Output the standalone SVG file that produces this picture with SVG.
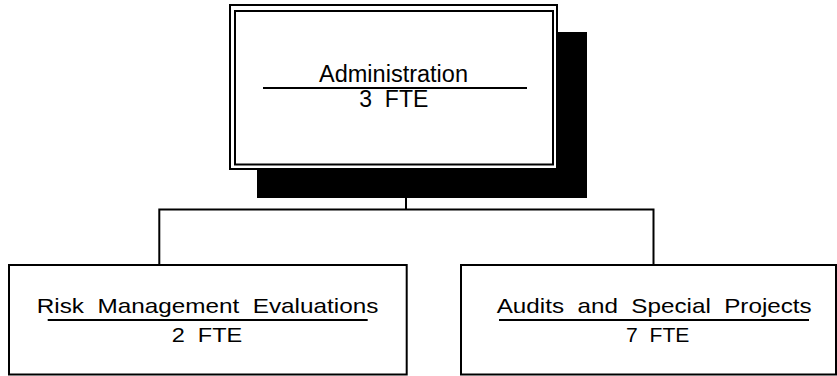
<svg xmlns="http://www.w3.org/2000/svg" width="837" height="376" viewBox="0 0 837 376">
<style>
.box{fill:#fff;stroke:#000;stroke-width:2}
.conn{fill:none;stroke:#000;stroke-width:2}
.rule{stroke:#000;stroke-width:2}
text{font-family:"Liberation Sans",Arial,sans-serif;fill:#000;text-anchor:middle;white-space:pre}
.t1{font-size:23.5px}
.t2{font-size:20px}
</style>
<rect width="837" height="376" fill="#fff"/>
<g id="connectors">
<path class="conn" d="M406,198 V209.5"/>
<path class="conn" d="M159.3,265 V209.5 H653.5 V265"/>
</g>
<g id="admin">
<rect x="257" y="32" width="330" height="166" fill="#000"/>
<rect class="box" x="230" y="5" width="327" height="164"/>
<rect x="235" y="11" width="318" height="153.5" fill="none" stroke="#000" stroke-width="2"/>
<text class="t1" x="393.5" y="81.5" textLength="149" lengthAdjust="spacingAndGlyphs">Administration</text>
<line class="rule" x1="263" y1="88" x2="527" y2="88"/>
<text class="t1" x="393.8" y="107" textLength="69" lengthAdjust="spacingAndGlyphs">3  FTE</text>
</g>
<g id="risk">
<rect class="box" x="9" y="265" width="397.7" height="109.5"/>
<text class="t2" transform="translate(207.5,313.3) scale(1.2,1)" textLength="284.7" lengthAdjust="spacingAndGlyphs">Risk  Management  Evaluations</text>
<line class="rule" x1="47.7" y1="320" x2="367.7" y2="320"/>
<text class="t2" transform="translate(207,341.7) scale(1.2,1)" textLength="58.8" lengthAdjust="spacingAndGlyphs">2  FTE</text>
</g>
<g id="audits">
<rect class="box" x="461" y="265" width="375" height="109.5"/>
<text class="t2" transform="translate(654.2,313.3) scale(1.2,1)" textLength="262.5" lengthAdjust="spacingAndGlyphs">Audits  and  Special  Projects</text>
<line class="rule" x1="499" y1="320" x2="809" y2="320"/>
<text class="t2" transform="translate(657.7,341.7) scale(1.2,1)" textLength="52.8" lengthAdjust="spacingAndGlyphs">7  FTE</text>
</g>
</svg>
